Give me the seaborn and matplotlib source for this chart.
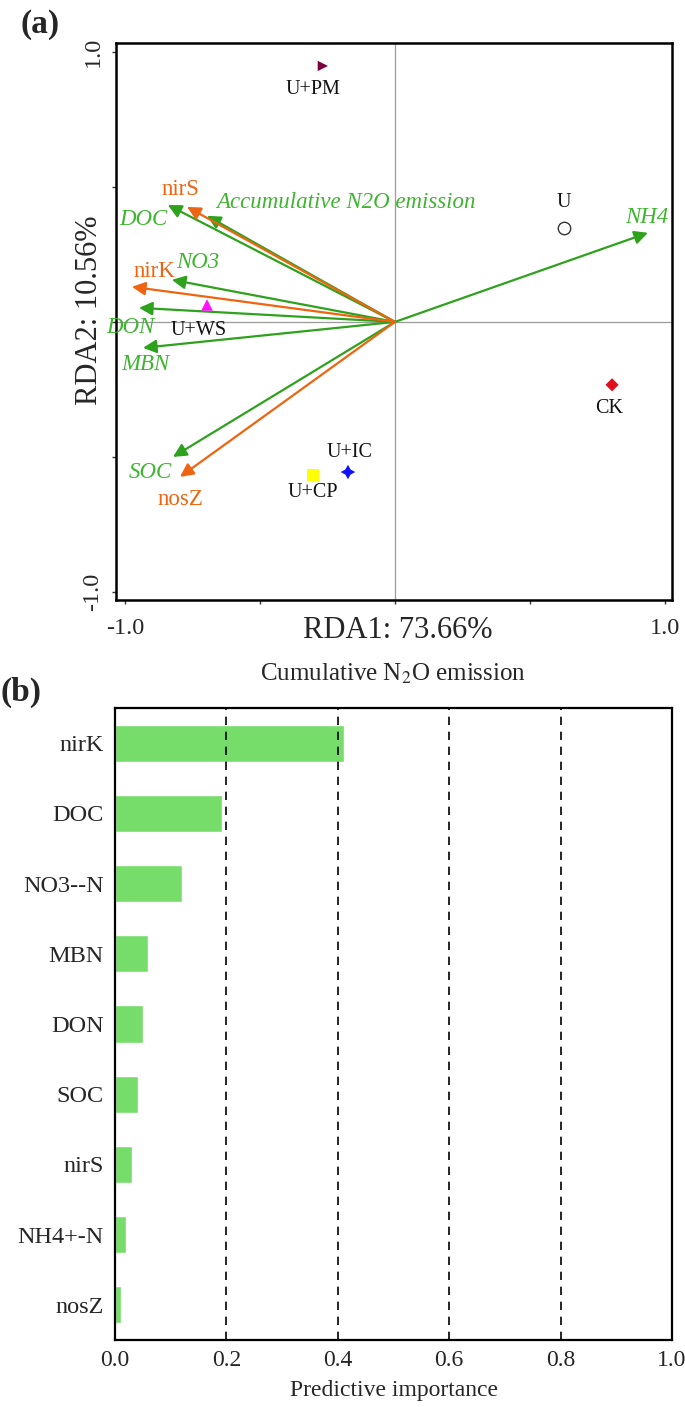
import numpy as np
import pandas as pd
import seaborn as sns
import matplotlib.pyplot as plt

# RDA arrows (environmental factors, green)
env_names = ['Accumulative N2O emission', 'DOC', 'NO3', 'DON', 'MBN', 'SOC', 'NH4']
env_x = [-0.696, -0.841, -0.826, -0.948, -0.933, -0.822, 0.937]
env_y = [0.393, 0.433, 0.156, 0.052, -0.096, -0.500, 0.330]
env_lab_x = [-0.181, -0.933, -0.730, -0.978, -0.926, -0.904, 0.933]
env_lab_y = [0.444, 0.378, 0.219, -0.019, -0.159, -0.556, 0.385]

# RDA arrows (functional genes, orange)
gene_names = ['nirS', 'nirK', 'nosZ']
gene_x = [-0.770, -0.974, -0.796]
gene_y = [0.426, 0.130, -0.574]
gene_lab_x = [-0.796, -0.889, -0.793]
gene_lab_y = [0.489, 0.185, -0.659]

# treatment sample scores
treat = ['U+PM', 'U', 'U+WS', 'CK', 'U+CP', 'U+IC']
treat_x = [-0.267, 0.626, -0.696, 0.804, -0.304, -0.174]
treat_y = [0.948, 0.348, 0.063, -0.233, -0.567, -0.556]
treat_lab_x = [-0.304, 0.626, -0.726, 0.793, -0.304, -0.167]
treat_lab_y = [0.859, 0.444, -0.030, -0.319, -0.630, -0.485]

# random forest predictive importance
rf_vars = ['nirK', 'DOC', 'NO3--N', 'MBN', 'DON', 'SOC', 'nirS', 'NH4+-N', 'nosZ']
rf_importance = [0.412, 0.192, 0.121, 0.060, 0.051, 0.042, 0.031, 0.020, 0.011]

sns.set_style('white')
plt.rcParams['font.family'] = ['Liberation Serif', 'DejaVu Serif']
plt.rcParams['mathtext.fontset'] = 'stix'

GREEN = '#2ea21c'
GREEN_TXT = '#3db52e'
ORANGE = '#ef6410'

fig = plt.figure(figsize=(6.85, 14.07), dpi=100)

# ---------------- panel (a) ----------------
ax1 = fig.add_axes([116/685, 1-600/1407, 556/685, 557/1407])
ax1.axhline(0, color='#9a9a9a', lw=0.9, zorder=0)
ax1.axvline(0, color='#9a9a9a', lw=0.9, zorder=0)

for name, x, y, lx, ly in zip(env_names, env_x, env_y, env_lab_x, env_lab_y):
    ax1.annotate('', xy=(x, y), xytext=(0, 0),
                 arrowprops=dict(arrowstyle='-|>', color=GREEN, lw=1.6,
                                 mutation_scale=20, shrinkA=0, shrinkB=0))
    ax1.text(lx, ly, name, color=GREEN_TXT, style='italic', fontsize=16.5,
             ha='center', va='center')

for name, x, y, lx, ly in zip(gene_names, gene_x, gene_y, gene_lab_x, gene_lab_y):
    ax1.annotate('', xy=(x, y), xytext=(0, 0),
                 arrowprops=dict(arrowstyle='-|>', color=ORANGE, lw=1.6,
                                 mutation_scale=20, shrinkA=0, shrinkB=0))
    ax1.text(lx, ly, name, color=ORANGE, fontsize=16.5, ha='center', va='center')

pts = pd.DataFrame({'x': treat_x, 'y': treat_y, 'treat': treat})
markers = {'U+PM': '>', 'U': 'o', 'U+WS': '^', 'CK': 'D', 'U+CP': 's', 'U+IC': (4, 1, 0)}
facecols = {'U+PM': '#7a0040', 'U': 'none', 'U+WS': '#ff10ff', 'CK': '#e0101e',
            'U+CP': '#ffff00', 'U+IC': '#1010ff'}
sizes = {'U+PM': 55, 'U': 80, 'U+WS': 70, 'CK': 45, 'U+CP': 70, 'U+IC': 110}
for t in treat:
    sub = pts[pts['treat'] == t]
    sns.scatterplot(data=sub, x='x', y='y', ax=ax1, marker=markers[t], s=sizes[t],
                    color=facecols[t] if t != 'U' else 'white',
                    edgecolor='#333333' if t == 'U' else 'none',
                    linewidth=1.0, zorder=5, legend=False)
for t, lx, ly in zip(treat, treat_lab_x, treat_lab_y):
    ax1.text(lx, ly, t, color='#111111', fontsize=14.5, ha='center', va='center')

ax1.set_xlim(-1.033, 1.026)
ax1.set_ylim(-1.030, 1.033)
ax1.set_xticks([-1, -0.5, 0, 0.5, 1])
ax1.set_xticklabels(['-1.0', '', '', '', '1.0'], fontsize=17.5)
ax1.set_yticks([-1, -0.5, 0, 0.5, 1])
ax1.set_yticklabels(['-1.0', '', '', '', '1.0'], fontsize=17.5, rotation=90, va='center')
ax1.tick_params(axis='both', direction='out', length=3, width=1, color='#333333',
                bottom=True, left=True)
ax1.tick_params(axis='x', pad=10)
ax1.tick_params(axis='y', pad=6)
ax1.set_xlabel('RDA1: 73.66%', fontsize=22)
ax1.xaxis.set_label_coords(0.507, -0.028)
ax1.set_ylabel('RDA2: 10.56%', fontsize=22)
ax1.yaxis.set_label_coords(-0.022, 0.52)
for sp in ax1.spines.values():
    sp.set_linewidth(1.8)
    sp.set_color('black')

# ---------------- panel (b) ----------------
ax2 = fig.add_axes([115/685, 1-1340/1407, 557/685, 632/1407])
rf = pd.DataFrame({'var': rf_vars, 'importance': rf_importance})
sns.barplot(data=rf, x='importance', y='var', orient='h', color='#77dd6a',
            saturation=1, width=0.53, ax=ax2, zorder=1)
for v in [0.2, 0.4, 0.6, 0.8]:
    ax2.axvline(v, color='black', lw=1.2, ls=(0, (5, 4)), zorder=2)
ax2.set_xlim(0, 1)
ax2.set_ylim(8.5, -0.5)
ax2.set_xticks([0, 0.2, 0.4, 0.6, 0.8, 1.0])
ax2.set_xticklabels(['0.0', '0.2', '0.4', '0.6', '0.8', '1.0'], fontsize=17)
ax2.tick_params(axis='y', labelsize=17.5, length=0, pad=8)
ax2.tick_params(axis='x', length=0, pad=7)
ax2.set_ylabel('')
ax2.set_xlabel('Predictive importance', fontsize=17)
ax2.xaxis.set_label_coords(0.5, -0.063)
ax2.set_title('Cumulative N$_2$O emission', fontsize=18, pad=20)
for sp in ax2.spines.values():
    sp.set_linewidth(1.6)
    sp.set_color('black')

fig.text(20/685, 1-24/1407, '(a)', fontsize=24, fontweight='bold', ha='left', va='center')
fig.text(0/685, 1-692/1407, '(b)', fontsize=24, fontweight='bold', ha='left', va='center')

fig.savefig('out.png', dpi=100)
